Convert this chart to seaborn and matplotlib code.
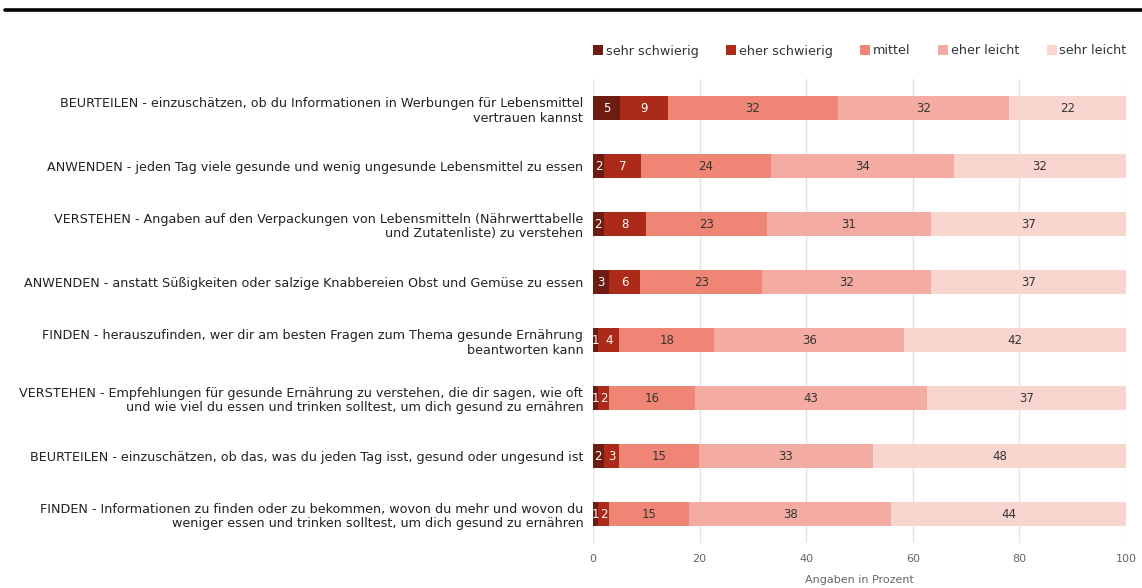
import matplotlib
matplotlib.use("Agg")
import matplotlib.pyplot as plt
import seaborn as sns
import numpy as np
import pandas as pd

categories = [
    "BEURTEILEN - einzuschätzen, ob du Informationen in Werbungen für Lebensmittel\nvertrauen kannst",
    "ANWENDEN - jeden Tag viele gesunde und wenig ungesunde Lebensmittel zu essen",
    "VERSTEHEN - Angaben auf den Verpackungen von Lebensmitteln (Nährwerttabelle\nund Zutatenliste) zu verstehen",
    "ANWENDEN - anstatt Süßigkeiten oder salzige Knabbereien Obst und Gemüse zu essen",
    "FINDEN - herauszufinden, wer dir am besten Fragen zum Thema gesunde Ernährung\nbeantworten kann",
    "VERSTEHEN - Empfehlungen für gesunde Ernährung zu verstehen, die dir sagen, wie oft\nund wie viel du essen und trinken solltest, um dich gesund zu ernähren",
    "BEURTEILEN - einzuschätzen, ob das, was du jeden Tag isst, gesund oder ungesund ist",
    "FINDEN - Informationen zu finden oder zu bekommen, wovon du mehr und wovon du\nweniger essen und trinken solltest, um dich gesund zu ernähren",
]

series_names = ["sehr schwierig", "eher schwierig", "mittel", "eher leicht", "sehr leicht"]
sehr_schwierig = [5, 2, 2, 3, 1, 1, 2, 1]
eher_schwierig = [9, 7, 8, 6, 4, 2, 3, 2]
mittel = [32, 24, 23, 23, 18, 16, 15, 15]
eher_leicht = [32, 34, 31, 32, 36, 43, 33, 38]
sehr_leicht = [22, 32, 37, 37, 42, 37, 48, 44]

colors = ["#6e1c12", "#ab2a1a", "#ef8575", "#f4aca2", "#f9d5d0"]
label_colors = ["#ffffff", "#ffffff", "#333333", "#333333", "#333333"]

x_ticks = [0, 20, 40, 60, 80, 100]
x_label = "Angaben in Prozent"

values = np.array([sehr_schwierig, eher_schwierig, mittel, eher_leicht, sehr_leicht], dtype=float)
# percent stacking: each row is scaled to 100 %
shares = values / values.sum(axis=0) * 100
cum = np.cumsum(shares, axis=0)

fig = plt.figure(figsize=(11.42, 5.88), dpi=100)
sns.set_style("white")
plt.rcParams["font.family"] = ["DejaVu Sans"]

ax = fig.add_axes([593 / 1142, 1 - 543 / 588, (1126 - 593) / 1142, (543 - 79) / 588])

# stacked bars: draw cumulative totals from the outermost segment inward
for i in range(len(series_names) - 1, -1, -1):
    df = pd.DataFrame({"Kategorie": categories, "Wert": cum[i]})
    sns.barplot(data=df, x="Wert", y="Kategorie", orient="h", color=colors[i],
                saturation=1, width=0.43, ax=ax, zorder=3, linewidth=0)

for i in range(len(series_names)):
    for j in range(len(categories)):
        left = cum[i, j] - shares[i, j]
        ax.text(left + shares[i, j] / 2, j, f"{int(values[i, j])}", ha="center", va="center",
                fontsize=8.5, color=label_colors[i], zorder=5, clip_on=True)

ax.set_xlim(0, 100)
ax.set_ylim(len(categories) - 0.5, -0.5)
ax.set_xticks(x_ticks)
ax.set_xticklabels([str(t) for t in x_ticks], fontsize=8, color="#666666")
ax.set_xlabel(x_label, fontsize=8, color="#666666", labelpad=8)
ax.set_ylabel("")
ax.tick_params(axis="y", length=0, pad=7, labelsize=9.2, labelcolor="#222222")
ax.tick_params(axis="x", length=0, pad=8)
ax.grid(axis="x", color="#e3e3e3", linewidth=1, zorder=0)
ax.set_axisbelow(True)
for s in ax.spines.values():
    s.set_visible(False)

# legend across the top right
handles = [plt.Line2D([], [], marker="s", linestyle="", markersize=6.5,
                      markerfacecolor=c, markeredgewidth=0) for c in colors]
fig.legend(handles, series_names, loc="center right", bbox_to_anchor=(1138 / 1142, 1 - 51 / 588),
           ncol=5, frameon=False, fontsize=9.2, handletextpad=0.15, columnspacing=2.1,
           labelcolor="#333333", handlelength=0.9)

# heavy rule along the top edge
fig.add_artist(plt.Line2D([5 / 1142, 1], [1 - 9.5 / 588, 1 - 9.5 / 588], color="black",
                          linewidth=2.6, transform=fig.transFigure))

fig.savefig("out.png", dpi=100)
